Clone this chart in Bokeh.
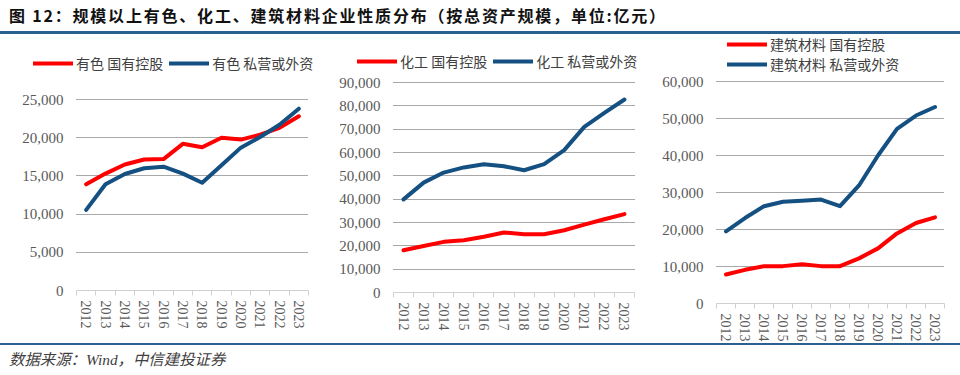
from bokeh.plotting import figure
from bokeh.models import Div, Legend, LegendItem, FixedTicker, NumeralTickFormatter
from bokeh.layouts import column, row
from bokeh.embed import file_html
from bokeh.resources import INLINE

years = [2012, 2013, 2014, 2015, 2016, 2017, 2018, 2019, 2020, 2021, 2022, 2023]

# 有色
ys_state = [13900, 15300, 16500, 17150, 17200, 19200, 18750, 20000, 19750, 20400, 21300, 22800]
ys_priv = [10550, 13900, 15250, 16000, 16200, 15300, 14100, 16400, 18700, 20100, 21700, 23800]
ys_ticks = [0, 5000, 10000, 15000, 20000, 25000]

# 化工
hg_state = [18100, 19900, 21700, 22400, 23900, 25700, 25000, 25000, 26700, 29100, 31400, 33600]
hg_priv = [39900, 47100, 51400, 53600, 55000, 54100, 52400, 55000, 61000, 71000, 77000, 82700]
hg_ticks = [0, 10000, 20000, 30000, 40000, 50000, 60000, 70000, 80000, 90000]

# 建筑材料
jc_state = [7850, 9100, 10100, 10100, 10600, 10100, 10100, 12200, 14900, 18950, 21750, 23300]
jc_priv = [19500, 23100, 26300, 27500, 27800, 28100, 26300, 31900, 40000, 47200, 50800, 53100]
jc_ticks = [0, 10000, 20000, 30000, 40000, 50000, 60000]

labels_state = ["有色 国有控股", "化工 国有控股", "建筑材料 国有控股"]
labels_priv = ["有色 私营或外资", "化工 私营或外资", "建筑材料 私营或外资"]

title_text = "图 12：规模以上有色、化工、建筑材料企业性质分布（按总资产规模，单位:亿元）"
source_text = "数据来源：Wind，中信建投证券"

RED = "#FF0000"
BLUE = "#155082"
RULE = "#2B5F8E"
FIG_TOP = 34
FIG_BOTTOM = 343
CJK = "Noto Sans CJK SC"
ITEM_H = 20


def make_panel(fig_left, fig_right, area_left, area_right, y0_px, ytop_px,
               state, priv, ticks, lab_s, lab_p, leg_x, leg_top_mid, orientation):
    width = fig_right - fig_left
    height = FIG_BOTTOM - FIG_TOP
    # value per pixel so that 0 and the top tick land where the reference has them
    vpp = ticks[-1] / (y0_px - ytop_px)
    y_start = -(FIG_BOTTOM - y0_px) * vpp
    y_end = (y0_px - FIG_TOP) * vpp
    x_lo, x_hi = years[0] - 0.5, years[-1] + 0.5
    cat_w = (area_right - area_left) / len(years)
    x_start = x_lo - (area_left - fig_left) / cat_w
    x_end = x_hi + (fig_right - area_right) / cat_w

    p = figure(width=width, height=height, output_backend="svg", toolbar_location=None,
               x_range=(x_start, x_end), y_range=(y_start, y_end),
               min_border=0, min_border_left=0, min_border_right=0,
               min_border_top=0, min_border_bottom=0)
    p.outline_line_color = None
    p.background_fill_color = None
    p.border_fill_color = None

    r1 = p.line(years, state, line_color=RED, line_width=4, line_join="round", line_cap="round")
    r2 = p.line(years, priv, line_color=BLUE, line_width=4, line_join="round", line_cap="round")

    # x axis drawn at y = 0 inside the frame
    xa = p.xaxis[0]
    xa.fixed_location = 0
    xa.bounds = (x_lo, x_hi)
    xa.ticker = FixedTicker(ticks=years, minor_ticks=[y - 0.5 for y in years] + [x_hi])
    xa.axis_line_color = "#D0D0D0"
    xa.major_tick_line_color = None
    xa.major_tick_out = 0
    xa.major_tick_in = 0
    xa.minor_tick_line_color = "#D0D0D0"
    xa.minor_tick_out = 5
    xa.minor_tick_in = 0
    xa.major_label_orientation = "vertical"
    xa.major_label_standoff = 5
    xa.major_label_text_font = "Liberation Serif"
    xa.major_label_text_font_size = "14px"
    xa.major_label_text_color = "#595959"

    ya = p.yaxis[0]
    ya.fixed_location = x_lo
    ya.ticker = FixedTicker(ticks=ticks)
    ya.formatter = NumeralTickFormatter(format="0,0")
    ya.axis_line_color = None
    ya.major_tick_line_color = None
    ya.minor_tick_line_color = None
    ya.major_tick_out = 0
    ya.major_tick_in = 0
    ya.major_label_standoff = 13
    ya.major_label_text_font = "Liberation Serif"
    ya.major_label_text_font_size = "15px"
    ya.major_label_text_color = "#595959"

    p.xgrid.grid_line_color = None
    grid_ticks = [t for t in ticks if t > 0]
    try:
        p.ygrid.cross_bounds = (x_lo, x_hi)
        p.ygrid.ticker = FixedTicker(ticks=grid_ticks)
        p.ygrid.grid_line_color = "#505050"
        p.ygrid.grid_line_dash = "1 1"
        p.ygrid.grid_line_width = 1
    except AttributeError:
        p.ygrid.grid_line_color = None
        p.segment(x0=[x_lo] * len(grid_ticks), x1=[x_hi] * len(grid_ticks),
                  y0=grid_ticks, y1=grid_ticks, line_color="#505050",
                  line_dash="1 1", line_width=1, level="underlay")

    if orientation == "horizontal":
        spacing = 6
        leg_h = ITEM_H
    else:
        spacing = -2
        leg_h = 2 * ITEM_H + spacing
    leg_bottom = leg_top_mid - ITEM_H / 2 + leg_h
    legend = Legend(items=[LegendItem(label=lab_s, renderers=[r1]),
                           LegendItem(label=lab_p, renderers=[r2])],
                    location=(leg_x - fig_left, FIG_BOTTOM - leg_bottom),
                    orientation=orientation,
                    glyph_width=40, glyph_height=ITEM_H, label_height=ITEM_H,
                    label_standoff=3, spacing=spacing,
                    padding=0, margin=0, border_line_color=None, background_fill_alpha=0,
                    label_text_font=CJK, label_text_font_size="14px",
                    label_text_color="#404040", label_text_baseline="middle")
    p.add_layout(legend)
    return p


p1 = make_panel(0, 320, 76, 308, 290, 99, ys_state, ys_priv, ys_ticks,
                labels_state[0], labels_priv[0], 33, 63, "horizontal")
p2 = make_panel(320, 640, 393, 634, 292, 82, hg_state, hg_priv, hg_ticks,
                labels_state[1], labels_priv[1], 357, 61, "horizontal")
p3 = make_panel(640, 960, 716, 944, 303, 81, jc_state, jc_priv, jc_ticks,
                labels_state[2], labels_priv[2], 727, 46, "vertical")

title = Div(text=(
    f'<div style="box-sizing:border-box;width:960px;height:34px;border-bottom:3px solid {RULE};'
    f'font-family:\'{CJK}\';font-weight:bold;font-size:16px;line-height:16px;letter-spacing:1.8px;'
    f'color:#111;padding-left:9px;padding-top:7px;white-space:nowrap;">{title_text}</div>'),
    width=960, height=34, margin=0)

footer = Div(text=(
    f'<div style="box-sizing:border-box;width:960px;height:32px;border-top:2px solid {RULE};'
    f'font-family:\'Liberation Serif\',\'{CJK}\';font-style:italic;font-size:15.4px;line-height:16px;'
    f'color:#404040;padding-left:9px;padding-top:7px;white-space:nowrap;">{source_text}</div>'),
    width=960, height=32, margin=0)

layout = column(title, row(p1, p2, p3, spacing=0), footer, spacing=0)

with open("out.html", "w") as f:
    f.write(file_html(layout, INLINE))
